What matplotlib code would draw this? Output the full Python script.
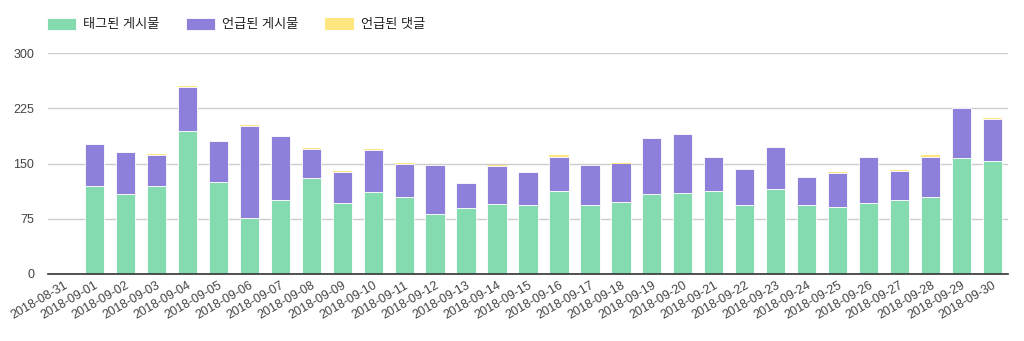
import matplotlib.pyplot as plt
import numpy as np

# daily counts
dates = ['2018-08-31'] + ['2018-09-%02d' % d for d in range(1, 31)]
tagged = [0, 120, 109, 119, 194, 125, 76, 101, 130, 97, 111,
          105, 82, 89, 95, 94, 112, 93, 98, 108, 110,
          113, 94, 115, 93, 91, 97, 100, 104, 157, 154]
mentioned = [0, 56, 56, 43, 60, 55, 125, 87, 40, 42, 58,
             44, 66, 34, 52, 44, 47, 55, 52, 76, 80,
             46, 48, 57, 38, 46, 62, 40, 55, 68, 57]
comments = [0, 1, 1, 1, 1, 1, 1, 0, 1, 1, 1,
            1, 0, 1, 1, 1, 3, 0, 1, 1, 0,
            0, 1, 0, 1, 1, 0, 1, 2, 1, 1]
labels = ['태그된 게시물', '언급된 게시물', '언급된 댓글']
colors = ['#84dbb0', '#8c80db', '#ffe680']

plt.rcParams['font.family'] = ['Liberation Sans', 'Noto Sans CJK KR', 'DejaVu Sans']

fig = plt.figure(figsize=(10.24, 3.41), dpi=100)
ax = fig.add_axes([48 / 1024, 1 - 274 / 341, 960 / 1024, 221 / 341])

x = np.arange(len(dates))
tagged = np.array(tagged)
mentioned = np.array(mentioned)
comments = np.array(comments)
w = 0.62
b1 = ax.bar(x, tagged, w, color=colors[0], edgecolor='white', linewidth=0.6, zorder=3)
b2 = ax.bar(x, mentioned, w, bottom=tagged, color=colors[1], edgecolor='white', linewidth=0.6, zorder=3)
b3 = ax.bar(x, comments, w, bottom=tagged + mentioned, color=colors[2], edgecolor='none', zorder=3)

ax.set_xlim(-0.5, len(dates) - 0.5)
ax.set_ylim(0, 300)
ax.set_yticks([0, 75, 150, 225, 300])
ax.yaxis.grid(True, color='#cccccc', linewidth=1)
ax.set_axisbelow(True)
for s in ['top', 'right', 'left']:
    ax.spines[s].set_visible(False)
ax.spines['bottom'].set_color('#333333')
ax.spines['bottom'].set_linewidth(1.2)
ax.spines['bottom'].set_zorder(4)
ax.tick_params(axis='both', length=0, labelsize=9, labelcolor='#444444')
ax.tick_params(axis='y', pad=10)
ax.set_xticks(x)
ax.set_xticklabels(dates, rotation=30, ha='right', rotation_mode='anchor')
ax.tick_params(axis='x', pad=4)

fig.legend([b1, b2, b3], labels, loc='upper left', bbox_to_anchor=(35 / 1024, 1 - 6 / 341),
           ncol=3, frameon=False, fontsize=9.5, handlelength=2.2, handleheight=1.0,
           columnspacing=2.0, handletextpad=0.55, labelcolor='#222222')

fig.savefig('out.png', dpi=100)
